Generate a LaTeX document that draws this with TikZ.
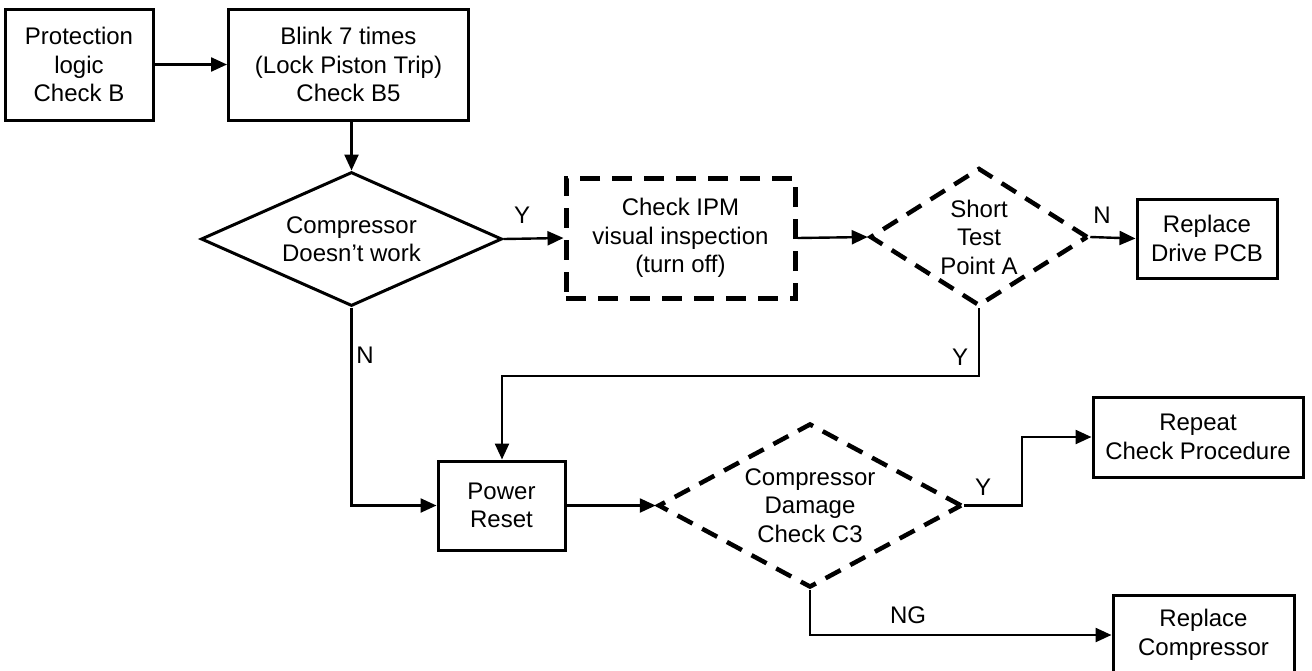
\documentclass[tikz,border=0pt]{standalone}
\usepackage{fontspec}
\setmainfont{Liberation Sans}
\usetikzlibrary{shapes.geometric,arrows.meta}
\begin{document}
\begin{tikzpicture}[x=1pt,y=-1pt,
  every node/.style={font=\fontsize{24}{28.5}\selectfont, align=center},
  box/.style={draw, line width=3pt, rectangle, inner sep=0pt},
  dbox/.style={draw, line width=5pt, dash pattern=on 20pt off 12pt, inner sep=0pt},
  dec/.style={draw, diamond, line width=3pt, inner sep=0pt},
  ddec/.style={draw, diamond, line width=4.5pt, dash pattern=on 17pt off 11pt, inner sep=0pt},
  conn/.style={line width=2.4pt, -{Triangle[length=16pt,width=14pt]}},
  lbl/.style={inner sep=0pt}]
\useasboundingbox (0,0) rectangle (1312,670);
\clip (0,0) rectangle (1312,670);

\node[box, minimum width=148pt, minimum height=111pt] (a) at (79,64.5) {Protection\\logic\\Check B};
\node[box, minimum width=240pt, minimum height=111pt] (b) at (348.5,64.5) {Blink 7 times\\(Lock Piston Trip)\\Check B5};
\node[dec, minimum width=301pt, minimum height=134pt, aspect=2.2] (d1) at (351.5,239) {Compressor\\Doesn’t work};
\node[dbox, minimum width=229pt, minimum height=120pt] (c) at (680.5,238) {Check IPM\\visual inspection\\(turn off)};
\node[ddec, minimum width=218pt, minimum height=138pt, aspect=1.6] (d2) at (979,237) {Short\\Test\\Point A};
\node[box, minimum width=140pt, minimum height=79pt] (dd) at (1207,238.5) {Replace\\Drive PCB};
\node[box, minimum width=127pt, minimum height=89pt] (e) at (501.5,505.5) {Power\\Reset};
\node[ddec, minimum width=304pt, minimum height=164pt, aspect=1.85] (d3) at (810,505.5) {Compressor\\Damage\\Check C3};
\node[box, minimum width=210pt, minimum height=80pt] (r) at (1198,437) {Repeat\\Check Procedure};
\node[box, minimum width=181pt, minimum height=80pt] (rc) at (1203.5,635) {Replace\\Compressor};

\coordinate (k1) at (502,376);
\coordinate (k2) at (1022,0);

\draw[conn] (a.east) -- (b.west);
\draw[conn] (d1.north |- b.south) -- (d1.north);
\draw[conn] (d1.east) -- (c.west);
\draw[conn] (c.east) -- (d2.west);
\draw[conn] (d2.east) -- (dd.west);
\draw[conn] (d2.south) |- (k1) -- (k1 |- e.north);
\draw[conn] (d1.south) |- (e.west);
\draw[conn] (e.east) -- (d3.west);
\draw[conn] (d3.east) -- (d3.east -| k2) |- (r.west);
\draw[conn] (d3.south) |- (rc.west);

\node[lbl] (ly1) at (522,215) {Y};
\node[lbl] (ln1) at (1102,215) {N};
\node[lbl] (ly2) at (960,357) {Y};
\node[lbl] (ln2) at (365,355) {N};
\node[lbl] (ly3) at (983,487) {Y};
\node[lbl] (lng) at (908,615) {NG};
\end{tikzpicture}
\end{document}
